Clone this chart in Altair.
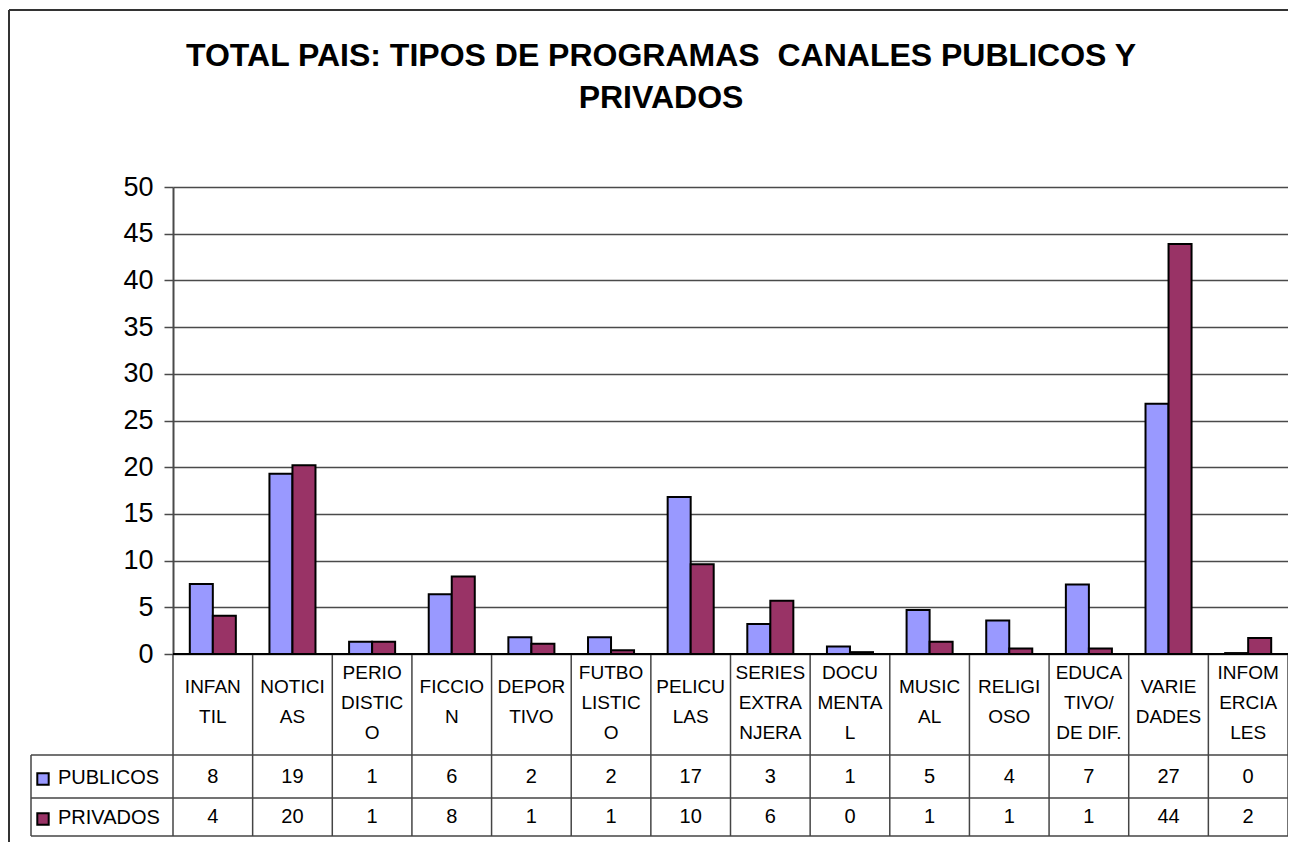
import altair as alt
import pandas as pd

# ---- data ----
categorias = ["INFANTIL", "NOTICIAS", "PERIODISTICO", "FICCION", "DEPORTIVO",
              "FUTBOLISTICO", "PELICULAS", "SERIES EXTRANJERAS", "DOCUMENTAL",
              "MUSICAL", "RELIGIOSO", "EDUCATIVO/DE DIF.", "VARIEDADES", "INFOMERCIALES"]
etiquetas = ["INFAN\nTIL", "NOTICI\nAS", "PERIO\nDISTIC\nO", "FICCIO\nN", "DEPOR\nTIVO",
             "FUTBO\nLISTIC\nO", "PELICU\nLAS", "SERIES\nEXTRA\nNJERA", "DOCU\nMENTA\nL",
             "MUSIC\nAL", "RELIGI\nOSO", "EDUCA\nTIVO/\nDE DIF.", "VARIE\nDADES", "INFOM\nERCIA\nLES"]
publicos = [7.5, 19.3, 1.3, 6.4, 1.8, 1.8, 16.8, 3.2, 0.8, 4.7, 3.6, 7.45, 26.8, 0.1]
privados = [4.1, 20.2, 1.3, 8.3, 1.1, 0.4, 9.6, 5.7, 0.2, 1.3, 0.6, 0.6, 43.9, 1.7]
tabla_publicos = [8, 19, 1, 6, 2, 2, 17, 3, 1, 5, 4, 7, 27, 0]
tabla_privados = [4, 20, 1, 8, 1, 1, 10, 6, 0, 1, 1, 1, 44, 2]
series = ["PUBLICOS", "PRIVADOS"]
colores = ["#9999FF", "#993366"]
y_ticks = list(range(0, 51, 5))
titulo = "TOTAL PAIS: TIPOS DE PROGRAMAS \u00a0CANALES PUBLICOS Y\nPRIVADOS"

# ---- layout constants (pixels) ----
W, H = 1115, 467
FONT = "Liberation Sans"
ROW1_TOP, ROW2_TOP, ROW_BOTTOM = 568, 611, 649
LEFT_COL = -142
LINE = "#454545"

bars_df = pd.DataFrame(
    [{"cat": c, "serie": "PUBLICOS", "v": v} for c, v in zip(categorias, publicos)] +
    [{"cat": c, "serie": "PRIVADOS", "v": v} for c, v in zip(categorias, privados)]
)
lab_df = pd.DataFrame({"cat": categorias, "lab": etiquetas})
lab_df["n"] = lab_df["lab"].str.count("\n") + 1
pub_df = pd.DataFrame({"cat": categorias, "t": tabla_publicos})
priv_df = pd.DataFrame({"cat": categorias, "t": tabla_privados})
leg_df = pd.DataFrame({"serie": series})
one = pd.DataFrame({"t": [titulo]})

xscale = alt.Scale(domain=categorias, paddingInner=0, paddingOuter=0)
color = alt.Color("serie:N", scale=alt.Scale(domain=series, range=colores), legend=None)

bars = alt.Chart(bars_df).mark_bar(stroke="black", strokeWidth=2).encode(
    x=alt.X("cat:N", scale=xscale, axis=None),
    xOffset=alt.XOffset("serie:N", scale=alt.Scale(domain=series, paddingInner=0, paddingOuter=0.73)),
    y=alt.Y("v:Q", scale=alt.Scale(domain=[0, 50], nice=False),
            axis=alt.Axis(values=y_ticks, title=None, grid=True, gridColor="#4a4a4a", gridWidth=1.5,
                          domainColor="#4a4a4a", domainWidth=2, tickColor="#4a4a4a", tickWidth=1.5,
                          tickSize=9, labelFontSize=27, labelFont=FONT, labelColor="black",
                          labelPadding=11)),
    color=color,
)

# vertical lines of the data table at category starts
vlines = alt.Chart(lab_df).mark_rule(color=LINE, strokeWidth=1.5).encode(
    x=alt.X("cat:N", scale=xscale, axis=None, bandPosition=0),
    y=alt.value(H), y2=alt.value(ROW_BOTTOM),
)
right_line = alt.Chart(one).mark_rule(color=LINE, strokeWidth=1.5).encode(
    x=alt.value(W), y=alt.value(H), y2=alt.value(ROW_BOTTOM))
left_line = alt.Chart(one).mark_rule(color=LINE, strokeWidth=1.5).encode(
    x=alt.value(LEFT_COL), y=alt.value(ROW1_TOP), y2=alt.value(ROW_BOTTOM))
hlines = [
    alt.Chart(one).mark_rule(color=LINE, strokeWidth=1.5).encode(
        x=alt.value(LEFT_COL), x2=alt.value(W), y=alt.value(yy))
    for yy in (ROW1_TOP, ROW2_TOP, ROW_BOTTOM)
]
top_line = alt.Chart(one).mark_rule(color="black", strokeWidth=2).encode(
    x=alt.value(0), x2=alt.value(W), y=alt.value(H))

header_layers = []
for n, y0 in ((2, 500), (3, 486)):
    header_layers.append(
        alt.Chart(lab_df[lab_df.n == n]).mark_text(
            fontSize=19, font=FONT, lineBreak="\n", lineHeight=30,
            baseline="middle", align="center", color="black").encode(
            x=alt.X("cat:N", scale=xscale, axis=None),
            y=alt.value(y0),
            text="lab:N",
        )
    )
pub_txt = alt.Chart(pub_df).mark_text(fontSize=20, font=FONT, baseline="middle", color="black").encode(
    x=alt.X("cat:N", scale=xscale, axis=None), y=alt.value(590), text="t:Q")
priv_txt = alt.Chart(priv_df).mark_text(fontSize=20, font=FONT, baseline="middle", color="black").encode(
    x=alt.X("cat:N", scale=xscale, axis=None), y=alt.value(630), text="t:Q")

leg_layers = []
for s, yy in zip(series, (592, 632)):
    d = leg_df[leg_df.serie == s]
    leg_layers.append(alt.Chart(d).mark_square(size=130, stroke="black", strokeWidth=2, opacity=1).encode(
        x=alt.value(-130), y=alt.value(yy), color=color))
    leg_layers.append(alt.Chart(d).mark_text(fontSize=20, font=FONT, align="left", baseline="middle",
                                             color="black").encode(
        x=alt.value(-115), y=alt.value(yy - 1), text="serie:N"))

title_txt = alt.Chart(one).mark_text(
    fontSize=32, font=FONT, fontWeight="bold", lineBreak="\n", lineHeight=42,
    align="center", baseline="alphabetic", color="black").encode(
    x=alt.value(488), y=alt.value(-121), text="t:N")

frame_top = alt.Chart(one).mark_rule(color="#333333", strokeWidth=2).encode(
    x=alt.value(-164), x2=alt.value(W + 8), y=alt.value(-177))
frame_left = alt.Chart(one).mark_rule(color="#333333", strokeWidth=2).encode(
    x=alt.value(-164), y=alt.value(-177), y2=alt.value(H + 200))

chart = alt.layer(
    bars, vlines, right_line, left_line, *hlines, top_line, *header_layers, pub_txt, priv_txt,
    *leg_layers, title_txt, frame_top, frame_left
).properties(
    width=W, height=H,
    autosize=alt.AutoSizeParams(type="none"),
    padding={"left": 165, "top": 179, "right": 0, "bottom": 188},
).configure_view(
    fill="#C0C0C0", stroke="#6a6a6a", strokeWidth=1.5
).configure(background="white")

chart.save("out.html", embed_options={"renderer": "svg", "actions": False})
